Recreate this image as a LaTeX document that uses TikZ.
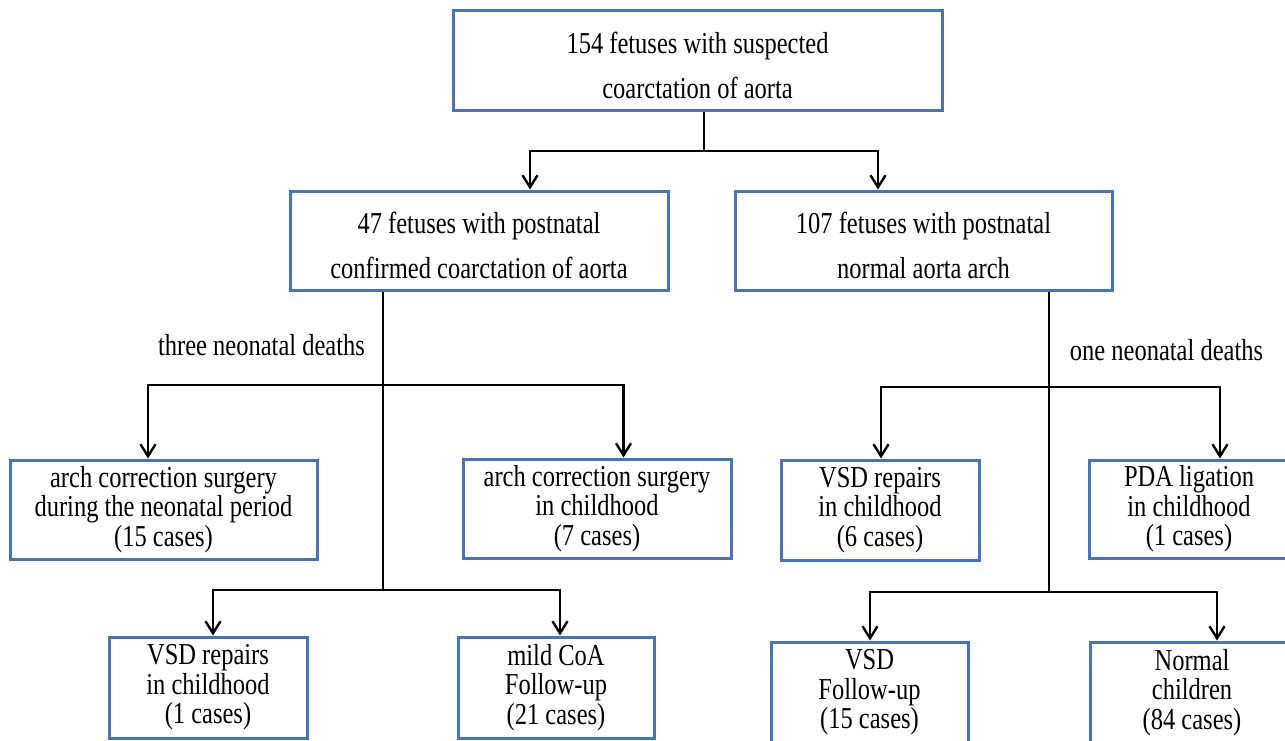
\documentclass[tikz,border=0pt]{standalone}
\usepackage{fontspec}
\setmainfont{Liberation Serif}[FakeStretch=0.806]
\usetikzlibrary{arrows.meta}
\definecolor{boxblue}{RGB}{68,114,196}
\begin{document}
\begin{tikzpicture}[x=1pt,y=-1pt,
  box/.style={draw=boxblue, line width=3pt, rectangle, align=center, inner sep=0pt,
    font=\fontsize{30.4}{29.5}\selectfont},
  bigbox/.style={box, font=\fontsize{30.4}{45}\selectfont, text height=77pt},
  conn/.style={line width=2.4pt, draw=black},
  arr/.style={conn, -{Straight Barb[length=12pt,width=15pt]}},
  lbl/.style={font=\fontsize{30.4}{29.5}\selectfont, inner sep=0pt}]
\clip (0,0) rectangle (1285,740);
\fill[white] (0,0) rectangle (1285,740);

% boxes
\node[bigbox, minimum width=489pt, minimum height=100pt] (top) at (697.5,60)
  {154 fetuses with suspected\\coarctation of aorta};
\node[bigbox, minimum width=378pt, minimum height=99pt] (b47) at (479,240.5)
  {47 fetuses with postnatal\\confirmed coarctation of aorta};
\node[bigbox, minimum width=377pt, minimum height=99pt] (b107) at (923.5,240.5)
  {107 fetuses with postnatal\\normal aorta arch};

\node[box, minimum width=307pt, minimum height=99pt] (neo) at (163.5,509.5)
  {arch correction surgery\\during the neonatal period\\(15 cases)};
\node[box, minimum width=268pt, minimum height=99pt] (chd) at (597,508.5)
  {arch correction surgery\\in childhood\\(7 cases)};
\node[box, minimum width=198pt, minimum height=100pt] (vsdR) at (880,510)
  {VSD repairs\\in childhood\\(6 cases)};
\node[box, minimum width=200pt, minimum height=98pt] (pda) at (1189,509)
  {PDA ligation\\in childhood\\(1 cases)};

\node[box, minimum width=198pt, minimum height=101pt] (vsdL) at (208,687.5)
  {VSD repairs\\in childhood\\(1 cases)};
\node[box, minimum width=196pt, minimum height=101pt] (mild) at (556,687.5)
  {mild CoA\\Follow-up\\(21 cases)};
\node[box, minimum width=197pt, minimum height=101pt] (vsdF) at (869.5,692.5)
  {VSD\\Follow-up\\(15 cases)};
\node[box, minimum width=204pt, minimum height=101pt] (norm) at (1192,692.5)
  {Normal\\children\\(84 cases)};

% labels
\node[lbl] (l1) at (261.5,345) {three neonatal deaths};
\node[lbl] (l2) at (1166.5,350) {one neonatal deaths};

% top split
\coordinate (j0) at (704,151);
\draw[conn] (top.south -| j0) -- (j0);
\draw[arr] (j0) -| ([xshift=51pt]b47.north);
\draw[arr] (j0) -| ([xshift=-45.5pt]b107.north);

% left tree
\coordinate (j1) at (383,385);
\coordinate (j2) at (383,590);
\draw[conn] (b47.south -| j1) -- (j2);
\draw[arr] (j1) -| ([xshift=-15.5pt]neo.north);
\draw[arr] (j1) -| ([xshift=26.5pt]chd.north);
\draw[arr] (j2) -| ([xshift=5pt]vsdL.north);
\draw[arr] (j2) -| ([xshift=4pt]mild.north);

% right tree
\coordinate (j3) at (1049,387);
\coordinate (j4) at (1049,592);
\draw[conn] (b107.south -| j3) -- (j4);
\draw[arr] (j3) -| ([xshift=1pt]vsdR.north);
\draw[arr] (j3) -| ([xshift=31pt]pda.north);
\draw[arr] (j4) -| ([xshift=0.5pt]vsdF.north);
\draw[arr] (j4) -| ([xshift=25pt]norm.north);
\end{tikzpicture}
\end{document}
